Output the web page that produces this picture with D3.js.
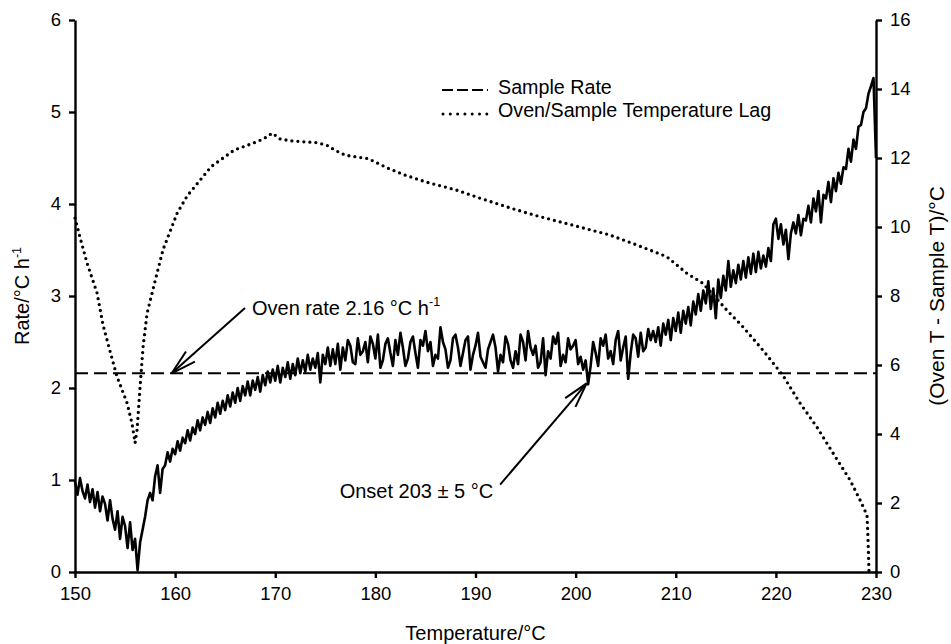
<!DOCTYPE html>
<html>
<head>
<meta charset="utf-8">
<script src="https://cdn.jsdelivr.net/npm/d3@7/dist/d3.min.js"></script>
<style>
  body { margin: 0; background: #fff; }
  text { font-family: "Liberation Sans", Arial, sans-serif; fill: #000; }
</style>
</head>
<body>
<div class="chart"></div>
<script>
// Data

var xTicks = [150, 160, 170, 180, 190, 200, 210, 220, 230];
var rateTicks = [0, 1, 2, 3, 4, 5, 6];
var lagTicks = [0, 2, 4, 6, 8, 10, 12, 14, 16];

var ovenRate = 2.16;

// oven/sample temperature lag: [temperature, lag]
var lagData = [
  [150.0, 10.26], [150.5, 9.7], [151.2, 8.96], [152.2, 8.09], [152.8, 7.16],
  [153.5, 6.4], [154.2, 5.66], [155.2, 4.9], [155.7, 4.3], [156.0, 3.74],
  [156.2, 4.12], [156.5, 5.37], [156.8, 6.53], [157.2, 7.5], [158.2, 8.67],
  [158.8, 9.35], [160.2, 10.4], [161.2, 10.9], [162.5, 11.36], [163.6, 11.75],
  [164.8, 12.0], [165.9, 12.23], [167.8, 12.43], [168.8, 12.55], [169.7, 12.72],
  [170.5, 12.55], [171.5, 12.5], [172.8, 12.47], [174.0, 12.45], [175.1, 12.38],
  [176.0, 12.22], [177.0, 12.08], [179.3, 11.98], [181.2, 11.71], [183.0, 11.5],
  [185.0, 11.31], [188.1, 11.07], [190.4, 10.84], [193.5, 10.55], [195.8, 10.35],
  [199.6, 10.06], [203.4, 9.77], [206.1, 9.48], [209.1, 9.14], [211.1, 8.66],
  [212.7, 8.37], [214.0, 7.95], [215.1, 7.59], [216.7, 7.11], [218.7, 6.43],
  [220.7, 5.70], [222.4, 4.9], [224.1, 4.2], [225.7, 3.45], [227.4, 2.67],
  [228.4, 2.09], [229.1, 1.65], [229.2, 1.0], [229.3, 0.0]
];

// sample rate, one row per degree: [start temperature, 4 readings 0.25 apart]
var rateStep = 0.25;
var rateRows = [
  [150, 0.98, 0.84, 1.02, 0.88], [151, 0.80, 0.95, 0.76, 0.90],
  [152, 0.70, 0.87, 0.66, 0.82], [153, 0.74, 0.56, 0.78, 0.58],
  [154, 0.46, 0.66, 0.36, 0.60], [155, 0.50, 0.26, 0.54, 0.24],
  [156, 0.36, 0.02, 0.32, 0.46], [157, 0.60, 0.78, 0.86, 0.78],
  [158, 1.04, 1.16, 0.86, 1.12], [159, 1.16, 1.30, 1.20, 1.34],
  [160, 1.28, 1.42, 1.32, 1.46], [161, 1.40, 1.54, 1.43, 1.57],
  [162, 1.50, 1.65, 1.54, 1.68], [163, 1.60, 1.74, 1.62, 1.78],
  [164, 1.68, 1.84, 1.72, 1.86], [165, 1.76, 1.92, 1.80, 1.95],
  [166, 1.84, 2.00, 1.86, 2.02], [167, 1.92, 2.07, 1.92, 2.08],
  [168, 1.98, 2.12, 1.96, 2.14], [169, 2.03, 2.18, 2.06, 2.20],
  [170, 2.08, 2.24, 2.06, 2.22], [171, 2.12, 2.28, 2.10, 2.26],
  [172, 2.14, 2.32, 2.16, 2.30], [173, 2.18, 2.36, 2.20, 2.32],
  [174, 2.22, 2.38, 2.06, 2.36], [175, 2.26, 2.44, 2.24, 2.42],
  [176, 2.26, 2.48, 2.20, 2.44], [177, 2.30, 2.52, 2.46, 2.28],
  [178, 2.26, 2.54, 2.36, 2.40], [179, 2.50, 2.28, 2.56, 2.48],
  [180, 2.32, 2.58, 2.22, 2.30], [181, 2.48, 2.54, 2.38, 2.24],
  [182, 2.52, 2.36, 2.60, 2.44], [183, 2.24, 2.32, 2.50, 2.56],
  [184, 2.38, 2.22, 2.52, 2.46], [185, 2.62, 2.40, 2.50, 2.24],
  [186, 2.36, 2.32, 2.66, 2.50], [187, 2.42, 2.22, 2.30, 2.54],
  [188, 2.58, 2.44, 2.24, 2.38], [189, 2.52, 2.56, 2.20, 2.36],
  [190, 2.46, 2.60, 2.34, 2.28], [191, 2.22, 2.42, 2.50, 2.58],
  [192, 2.44, 2.18, 2.36, 2.28], [193, 2.56, 2.48, 2.30, 2.22],
  [194, 2.40, 2.26, 2.58, 2.50], [195, 2.30, 2.62, 2.44, 2.36],
  [196, 2.46, 2.22, 2.28, 2.54], [197, 2.14, 2.40, 2.32, 2.56],
  [198, 2.48, 2.60, 2.24, 2.36], [199, 2.28, 2.54, 2.42, 2.46],
  [200, 2.52, 2.26, 2.34, 2.20], [201, 2.30, 2.04, 2.24, 2.50],
  [202, 2.38, 2.24, 2.54, 2.46], [203, 2.58, 2.32, 2.40, 2.26],
  [204, 2.52, 2.62, 2.30, 2.44], [205, 2.56, 2.10, 2.38, 2.58],
  [206, 2.54, 2.34, 2.60, 2.40], [207, 2.44, 2.64, 2.52, 2.62],
  [208, 2.50, 2.66, 2.46, 2.70], [209, 2.58, 2.74, 2.52, 2.76],
  [210, 2.62, 2.82, 2.60, 2.84], [211, 2.70, 2.88, 2.68, 2.94],
  [212, 2.80, 3.02, 2.84, 3.06], [213, 2.92, 3.16, 2.86, 3.08],
  [214, 2.76, 3.18, 2.98, 3.22], [215, 3.06, 3.38, 3.10, 3.28],
  [216, 3.14, 3.34, 3.18, 3.38], [217, 3.20, 3.42, 3.24, 3.46],
  [218, 3.26, 3.48, 3.30, 3.44], [219, 3.32, 3.52, 3.38, 3.78],
  [220, 3.84, 3.62, 3.78, 3.56], [221, 3.72, 3.40, 3.68, 3.80],
  [222, 3.68, 3.88, 3.66, 3.84], [223, 3.82, 3.98, 3.80, 4.06],
  [224, 3.92, 4.14, 3.80, 4.10], [225, 4.06, 4.24, 4.02, 4.28],
  [226, 4.14, 4.34, 4.22, 4.40], [227, 4.38, 4.60, 4.46, 4.70],
  [228, 4.60, 4.84, 4.86, 5.00], [229, 5.04, 5.20, 5.28, 5.37],
  [230, 4.50]
];

// annotation arrows: tail and tip in data units (temperature, rate)
var ovenArrow = { tail: [166.98, 2.87], tip: [159.66, 2.16] };
var onsetArrow = { tail: [192.46, 0.95], tip: [201.1, 2.05] };

// Step 1: Set up chart

var svgWidth = 951;
var svgHeight = 644;

var margin = {
  top: 20,
  right: 75,
  bottom: 72,
  left: 75
};

var width = svgWidth - margin.left - margin.right;
var height = svgHeight - margin.top - margin.bottom;

var svg = d3
  .select(".chart")
  .append("svg")
  .attr("width", svgWidth)
  .attr("height", svgHeight);

var chartGroup = svg.append("g")
  .attr("transform", `translate(${margin.left}, ${margin.top})`);

// flatten the rate rows into points
var rateData = [];
rateRows.forEach(function(row) {
  for (var k = 1; k < row.length; k++) {
    rateData.push({ t: row[0] + (k - 1) * rateStep, v: row[k] });
  }
});

// Scales
var xLinearScale = d3.scaleLinear().domain([150, 230]).range([0, width]);
var yRateScale = d3.scaleLinear().domain([0, 6]).range([height, 0]);
var yLagScale = d3.scaleLinear().domain([0, 16]).range([height, 0]);

// Axes
var intFormat = d3.format("d");
var bottomAxis = d3.axisBottom(xLinearScale).tickValues(xTicks).tickFormat(intFormat)
  .tickSizeInner(6).tickSizeOuter(0).tickPadding(9);
var leftAxis = d3.axisLeft(yRateScale).tickValues(rateTicks).tickFormat(intFormat)
  .tickSizeInner(6).tickSizeOuter(0).tickPadding(8);
var rightAxis = d3.axisRight(yLagScale).tickValues(lagTicks).tickFormat(intFormat)
  .tickSizeInner(6).tickSizeOuter(0).tickPadding(8);

function styleAxis(g) {
  g.attr("font-family", "Liberation Sans, Arial, sans-serif")
    .attr("font-size", 18.5);
  g.selectAll("path, line").attr("stroke", "#000").attr("stroke-width", 2.4);
  g.selectAll("text").attr("fill", "#000");
}

// Oven rate reference line
chartGroup.append("line")
  .attr("x1", xLinearScale(150))
  .attr("x2", xLinearScale(230))
  .attr("y1", yRateScale(ovenRate))
  .attr("y2", yRateScale(ovenRate))
  .attr("stroke", "#000")
  .attr("stroke-width", 2)
  .attr("stroke-dasharray", "13,6");

// Lag curve (dotted, right axis)
var lagLine = d3.line()
  .x(d => xLinearScale(d[0]))
  .y(d => yLagScale(d[1]));

chartGroup.append("path")
  .datum(lagData)
  .attr("d", lagLine)
  .attr("fill", "none")
  .attr("stroke", "#000")
  .attr("stroke-width", 3.3)
  .attr("stroke-linecap", "round")
  .attr("stroke-dasharray", "0,6");

// Sample rate curve (solid, left axis)
var rateLine = d3.line()
  .x(d => xLinearScale(d.t))
  .y(d => yRateScale(d.v));

chartGroup.append("path")
  .datum(rateData)
  .attr("d", rateLine)
  .attr("fill", "none")
  .attr("stroke", "#000")
  .attr("stroke-width", 2.6)
  .attr("stroke-linejoin", "round");

// Append axes to chart group
chartGroup.append("g")
  .attr("transform", `translate(0, ${height})`)
  .call(bottomAxis)
  .call(styleAxis);

chartGroup.append("g")
  .call(leftAxis)
  .call(styleAxis);

chartGroup.append("g")
  .attr("transform", `translate(${width}, 0)`)
  .call(rightAxis)
  .call(styleAxis);

// Axis titles
svg.append("text")
  .attr("x", margin.left + width / 2)
  .attr("y", 640)
  .attr("text-anchor", "middle")
  .attr("font-size", 20)
  .text("Temperature/°C");

var leftTitle = svg.append("text")
  .attr("transform", `translate(29, ${margin.top + height / 2}) rotate(-90)`)
  .attr("text-anchor", "middle")
  .attr("font-size", 20);
leftTitle.append("tspan").text("Rate/°C h");
leftTitle.append("tspan").attr("font-size", 12.5).attr("dy", -8).text("-1");

svg.append("text")
  .attr("transform", `translate(944, ${margin.top + height / 2}) rotate(-90)`)
  .attr("text-anchor", "middle")
  .attr("font-size", 21)
  .text("(Oven T - Sample T)/°C");

// Annotation arrows
function drawArrow(a) {
  var x0 = xLinearScale(a.tail[0]), y0 = yRateScale(a.tail[1]);
  var x1 = xLinearScale(a.tip[0]), y1 = yRateScale(a.tip[1]);
  var ang = Math.atan2(y0 - y1, x0 - x1);
  var len = 26, spread = 15 * Math.PI / 180;
  var g = chartGroup.append("g")
    .attr("stroke", "#000")
    .attr("stroke-width", 2);
  g.append("line").attr("x1", x0).attr("y1", y0).attr("x2", x1).attr("y2", y1);
  [-spread, spread].forEach(function(s) {
    g.append("line")
      .attr("x1", x1).attr("y1", y1)
      .attr("x2", x1 + len * Math.cos(ang + s))
      .attr("y2", y1 + len * Math.sin(ang + s));
  });
  return [x0, y0];
}

var ovenTail = drawArrow(ovenArrow);
var ovenText = chartGroup.append("text")
  .attr("x", ovenTail[0] + 7)
  .attr("y", ovenTail[1] + 7)
  .attr("font-size", 20);
ovenText.append("tspan").text("Oven rate 2.16 °C h");
ovenText.append("tspan").attr("font-size", 12.5).attr("dy", -9).text("-1");

var onsetTail = drawArrow(onsetArrow);
chartGroup.append("text")
  .attr("x", onsetTail[0] - 7)
  .attr("y", onsetTail[1] + 13)
  .attr("text-anchor", "end")
  .attr("font-size", 20)
  .text("Onset 203 ± 5 °C");

// Legend
var legend = svg.append("g");

legend.append("line")
  .attr("x1", 442).attr("x2", 488)
  .attr("y1", 90).attr("y2", 90)
  .attr("stroke", "#000")
  .attr("stroke-width", 2)
  .attr("stroke-dasharray", "11,4");
legend.append("text")
  .attr("x", 498).attr("y", 93.5)
  .attr("font-size", 19.7)
  .text("Sample Rate");

legend.append("line")
  .attr("x1", 443).attr("x2", 487)
  .attr("y1", 114).attr("y2", 114)
  .attr("stroke", "#000")
  .attr("stroke-width", 3)
  .attr("stroke-linecap", "round")
  .attr("stroke-dasharray", "0,7.3");
legend.append("text")
  .attr("x", 498).attr("y", 116.5)
  .attr("font-size", 19.7)
  .text("Oven/Sample Temperature Lag");
</script>
</body>
</html>
